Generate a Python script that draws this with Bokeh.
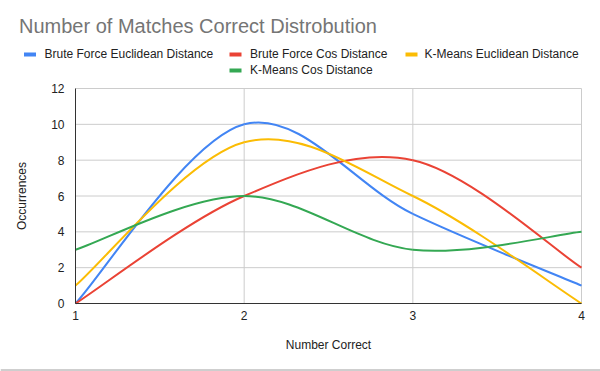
import math
from bokeh.plotting import figure
from bokeh.models import Range1d, Label, BoxAnnotation, FixedTicker, Span
from bokeh.embed import file_html
from bokeh.resources import INLINE

# ---- data ----
x_vals = [1, 2, 3, 4]
bf_euclid = [0, 10, 5, 1]
bf_cos = [0, 6, 8, 2]
km_euclid = [1, 9, 6, 0]
km_cos = [3, 6, 3, 4]
series_names = ["Brute Force Euclidean Distance", "Brute Force Cos Distance",
                "K-Means Euclidean Distance", "K-Means Cos Distance"]
series_vals = [bf_euclid, bf_cos, km_euclid, km_cos]
colors = ["#4285F4", "#EA4335", "#FBBC04", "#34A853"]
y_ticks = [0, 2, 4, 6, 8, 10, 12]
title_text = "Number of Matches Correct Distrobution"
x_label = "Number Correct"
y_label = "Occurrences"

FONT = "Liberation Sans"
W, H = 600, 371
# pixel box of the value area inside the canvas
PL, PR, PT, PB = 75, 581, 88, 303
XMIN, XMAX = x_vals[0], x_vals[-1]
YMIN, YMAX = y_ticks[0], y_ticks[-1]
sx_scale = (PR - PL) / (XMAX - XMIN)
sy_scale = (PB - PT) / (YMAX - YMIN)

def dx(px):
    return XMIN + (px - PL) / sx_scale
def dy(py):
    return YMIN + (PB - py) / sy_scale

p = figure(width=W, height=H, output_backend="svg", toolbar_location=None,
           x_range=Range1d(dx(0), dx(W)), y_range=Range1d(dy(H), dy(0)),
           min_border=0, min_border_left=0, min_border_right=0,
           min_border_top=0, min_border_bottom=0)
p.outline_line_color = None
p.background_fill_color = "white"
p.border_fill_color = "white"
p.xgrid.visible = False
p.ygrid.visible = False

# grid lines limited to the value area
p.segment(x0=[XMIN] * len(y_ticks), x1=[XMAX] * len(y_ticks), y0=y_ticks, y1=y_ticks,
          line_color="#cccccc", line_width=1)
gx = x_vals[1:]
p.segment(x0=gx, x1=gx, y0=[YMIN] * len(gx), y1=[YMAX] * len(gx),
          line_color="#cccccc", line_width=1)

for ax in (p.xaxis, p.yaxis):
    ax.major_tick_line_color = None
    ax.minor_tick_line_color = None
    ax.axis_line_color = "#333333"
    ax.major_label_text_font = FONT
    ax.major_label_text_font_size = "12px"
    ax.major_label_text_color = "#222222"
p.xaxis.ticker = FixedTicker(ticks=x_vals)
p.yaxis.ticker = FixedTicker(ticks=y_ticks)
p.xaxis.fixed_location = YMIN
p.yaxis.fixed_location = XMIN
p.xaxis.bounds = (XMIN, XMAX)
p.yaxis.bounds = (YMIN, YMAX)
p.xaxis.major_label_standoff = 1
p.yaxis.major_label_standoff = 5

# smooth curves (cardinal spline, rendered as cubic beziers)
def bezier_segments(xs, ys):
    n = len(xs)
    segs = {k: [] for k in ("x0", "y0", "x1", "y1", "cx0", "cy0", "cx1", "cy1")}
    for i in range(n - 1):
        ip = max(i - 1, 0)
        inx = min(i + 2, n - 1)
        segs["x0"].append(xs[i]); segs["y0"].append(ys[i])
        segs["x1"].append(xs[i + 1]); segs["y1"].append(ys[i + 1])
        segs["cx0"].append(xs[i] + (xs[i + 1] - xs[ip]) / 6)
        segs["cy0"].append(ys[i] + (ys[i + 1] - ys[ip]) / 6)
        segs["cx1"].append(xs[i + 1] - (xs[inx] - xs[i]) / 6)
        segs["cy1"].append(ys[i + 1] - (ys[inx] - ys[i]) / 6)
    return segs

for vals, col in zip(series_vals, colors):
    s = bezier_segments(x_vals, vals)
    p.bezier(line_color=col, line_width=2, **s)

# title
p.add_layout(Label(x=dx(18.5), y=dy(25), text=title_text, text_font=FONT,
                   text_font_size="20px", text_color="#757575",
                   text_baseline="alphabetic", text_align="left"))

# axis titles
p.add_layout(Label(x=dx((PL + PR) / 2), y=dy(344.5), text=x_label, text_font=FONT,
                   text_font_size="12px", text_color="#222222",
                   text_baseline="alphabetic", text_align="center"))
p.add_layout(Label(x=dx(21.5), y=dy((PT + PB) / 2), text=y_label, text_font=FONT,
                   text_font_size="12px", text_color="#222222", angle=math.pi / 2,
                   text_baseline="alphabetic", text_align="center"))

# legend (row 1: three items, row 2: one item, centred)
leg_pos = [(23.5, 44, 54), (229, 249.5, 54), (405, 424, 54), (229, 249.5, 70)]
for (sx, tx, cy), name, col in zip(leg_pos, series_names, colors):
    p.add_layout(BoxAnnotation(left=dx(sx), right=dx(sx + 12), top=dy(cy - 2), bottom=dy(cy + 2),
                               fill_color=col, fill_alpha=1, line_color=None))
    p.add_layout(Label(x=dx(tx), y=dy(cy - 0.3), text=name, text_font=FONT,
                       text_font_size="12px", text_color="#222222",
                       text_baseline="alphabetic", text_align="left"))

# bottom rule of the sheet
p.add_layout(Span(location=dy(369.5), dimension="width", line_color="#9e9e9e", line_width=1))

open("out.html", "w").write(file_html(p, INLINE))
